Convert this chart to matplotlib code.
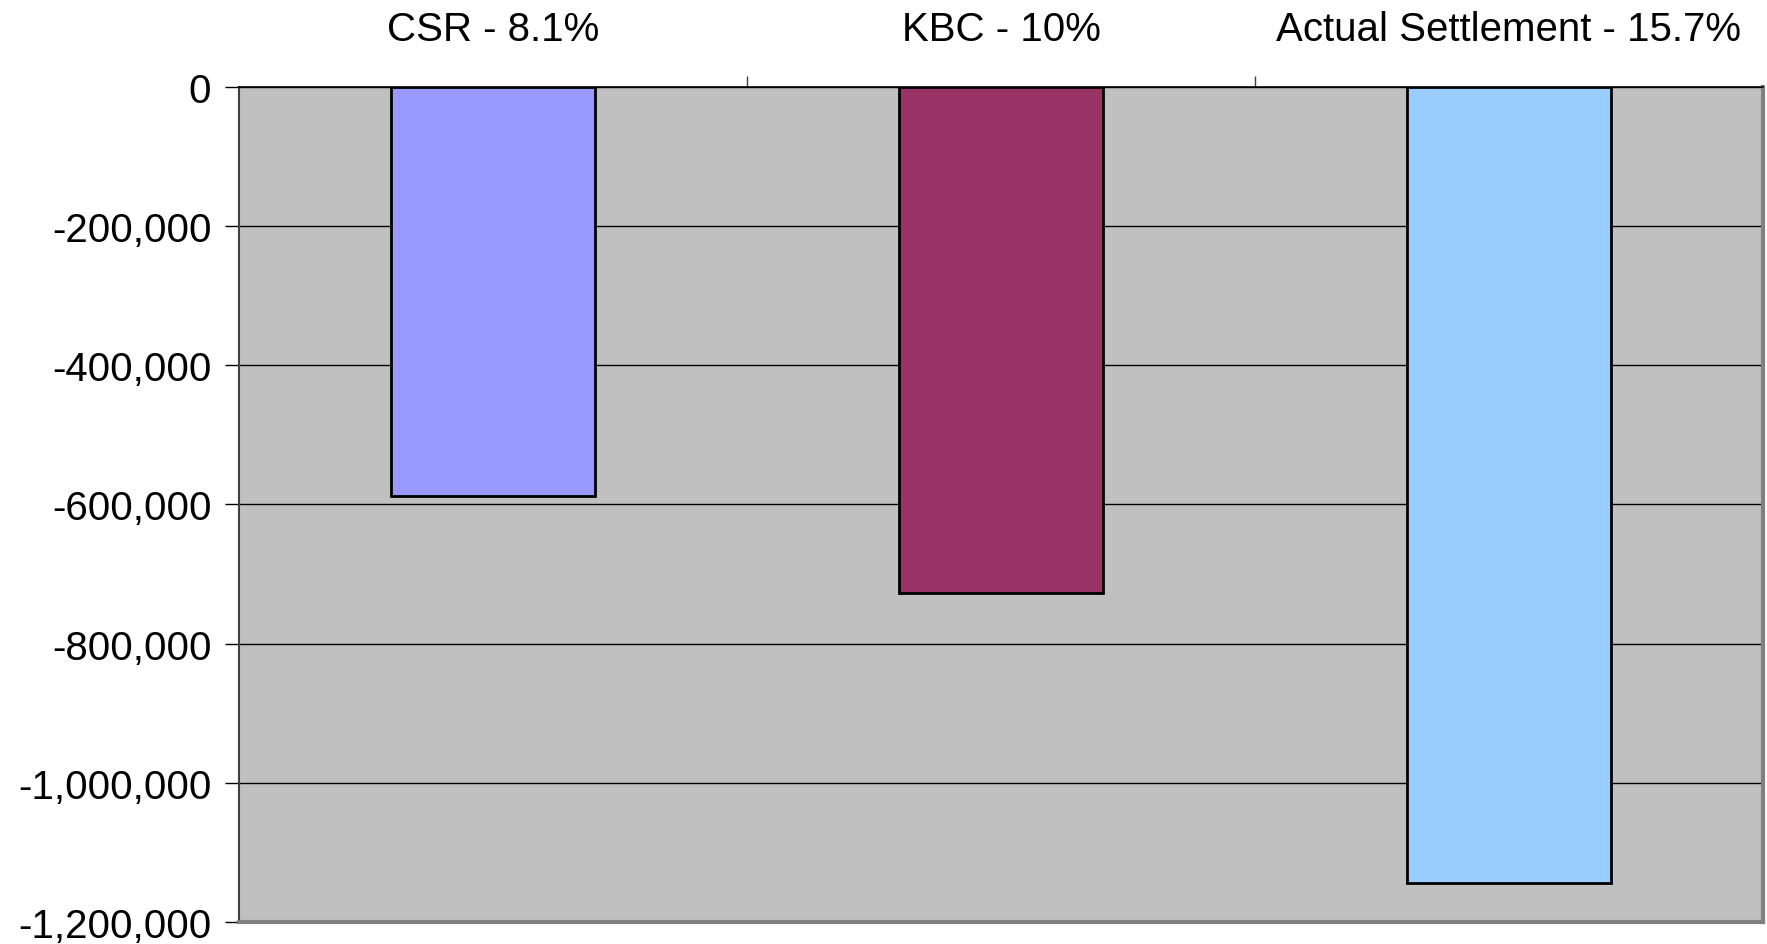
import matplotlib
matplotlib.use("Agg")
import matplotlib.pyplot as plt
from matplotlib.ticker import FuncFormatter, FixedLocator

#data
categories = ["CSR - 8.1%", "KBC - 10%", "Actual Settlement - 15.7%"]
values = [-588000, -727000, -1145000]
bar_colors = ["#9999FF", "#993366", "#99CCFF"]
yticks = [0, -200000, -400000, -600000, -800000, -1000000, -1200000]

plt.rcParams["font.family"] = ["Liberation Sans", "DejaVu Sans"]

fig = plt.figure(figsize=(17.67, 9.45), dpi=100)
ax = fig.add_axes([0.1353, 0.0236, 0.9977 - 0.1353, 0.9066 - 0.0236])
ax.set_facecolor("#C0C0C0")

x = list(range(len(categories)))
ax.bar(x, values, width=0.4, color=bar_colors, edgecolor="black", linewidth=2, zorder=3)

ax.set_xlim(-0.5, 2.5)
ax.set_ylim(-1200000, 0)

#y axis with thousands separators and plain hyphen
ax.yaxis.set_major_locator(FixedLocator(yticks))
ax.yaxis.set_major_formatter(FuncFormatter(lambda v, p: f"{int(v):,}"))
ax.tick_params(axis="y", direction="out", length=10, width=1, pad=10, labelsize=29, color="black")
ax.grid(axis="y", color="black", linewidth=1, zorder=1)
ax.set_axisbelow(True)

#category labels on top, ticks between categories
ax.xaxis.tick_top()
ax.set_xticks(x)
ax.set_xticklabels(categories)
ax.set_xticks([0.5, 1.5], minor=True)
ax.tick_params(axis="x", which="major", length=0, pad=28, labelsize=29)
ax.tick_params(axis="x", which="minor", direction="out", length=8, width=1, color="#404040")

ax.spines["top"].set_color("black")
ax.spines["top"].set_linewidth(1.2)
ax.spines["left"].set_color("#404040")
ax.spines["left"].set_linewidth(1.5)
ax.spines["bottom"].set_color("#808080")
ax.spines["bottom"].set_linewidth(3)
ax.spines["right"].set_color("#808080")
ax.spines["right"].set_linewidth(3)

fig.savefig("out.png", dpi=100)
